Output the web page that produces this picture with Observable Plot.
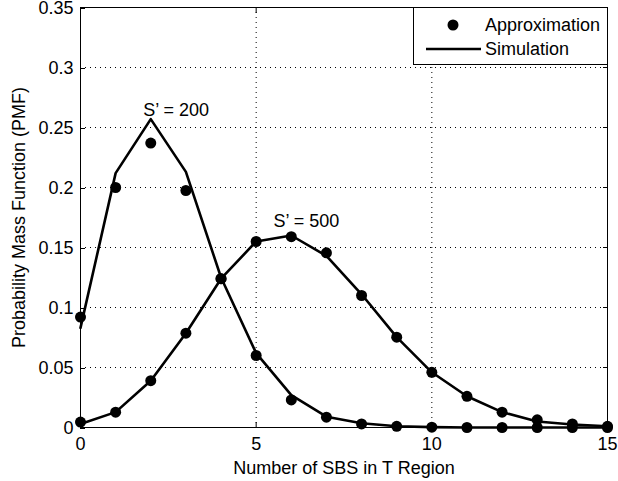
<!DOCTYPE html>
<html>
<head>
<meta charset="utf-8">
<script src="https://cdn.jsdelivr.net/npm/d3@7"></script>
<script src="https://cdn.jsdelivr.net/npm/@observablehq/plot@0.6"></script>
<style>
  body { margin: 0; background: #fff; }
  #wrap { position: relative; width: 618px; height: 481px; font-family: "Liberation Sans", Arial, sans-serif; }
  #legend { position: absolute; left: 413px; top: 7px; width: 193px; height: 56px; border: 1px solid #000; background: #fff; box-sizing: content-box; }
  #legend .row { position: absolute; left: 0; height: 24px; display: flex; align-items: center; font-size: 18px; }
  #legend svg { display: block; }
</style>
</head>
<body>
<div id="wrap"></div>
<script>
const xs = [0, 1, 2, 3, 4, 5, 6, 7, 8, 9, 10, 11, 12, 13, 14, 15];
const sim200 = [0.083, 0.212, 0.257, 0.213, 0.125, 0.062, 0.027, 0.009, 0.0035, 0.001, 0.0003, 0, 0, 0, 0, 0];
const approx200 = [0.092, 0.200, 0.237, 0.1975, 0.124, 0.060, 0.023, 0.0086, 0.003, 0.001, 0.0003, 0, 0, 0, 0, 0];
const sim500 = [0.003, 0.0128, 0.039, 0.0786, 0.124, 0.155, 0.160, 0.143, 0.111, 0.0753, 0.046, 0.026, 0.0128, 0.005, 0.0025, 0.001];
const approx500 = [0.0045, 0.0128, 0.039, 0.0786, 0.124, 0.155, 0.159, 0.1456, 0.110, 0.0753, 0.046, 0.026, 0.0128, 0.0064, 0.003, 0.001];
const xTicks = [0, 5, 10, 15];
const yTicks = [0, 0.05, 0.1, 0.15, 0.2, 0.25, 0.3, 0.35];
const yTickLabels = ["0", "0.05", "0.1", "0.15", "0.2", "0.25", "0.3", "0.35"];
const annoText = ["S’ = 200", "S’ = 500"];
const annoX = [2.72, 6.43];
const annoY = [0.264, 0.172];
const legendLabels = ["Approximation", "Simulation"];

const series = (ys) => xs.map((x, i) => ({x, y: ys[i]}));
const annos = annoText.map((t, i) => ({t, x: annoX[i], y: annoY[i]}));

const chart = Plot.plot({
  width: 618,
  height: 481,
  marginLeft: 80,
  marginRight: 11,
  marginTop: 7,
  marginBottom: 54,
  style: {fontFamily: "'Liberation Sans', Arial, sans-serif", fontSize: "18px", color: "#000", background: "#fff", overflow: "visible"},
  x: {domain: [0, 15]},
  y: {domain: [0, 0.35]},
  marks: [
    Plot.gridX(xTicks.slice(1, -1), {stroke: "#000", strokeOpacity: 1, strokeDasharray: "1,4"}),
    Plot.gridY(yTicks.slice(1, -1), {stroke: "#000", strokeOpacity: 1, strokeDasharray: "1,4"}),
    Plot.axisX({anchor: "bottom", ticks: xTicks, tickSize: -5, tickPadding: 15, tickFormat: d => String(d),
      label: "Number of SBS in T Region", labelAnchor: "center", labelArrow: "none", labelOffset: 46}),
    Plot.axisX({anchor: "top", ticks: xTicks, tickSize: -5, tickFormat: () => "", label: null}),
    Plot.axisY({anchor: "left", ticks: yTicks, tickSize: -5, tickPadding: 12, dy: 1, tickFormat: (d, i) => yTickLabels[i],
      label: "Probability Mass Function (PMF)", labelAnchor: "center", labelArrow: "none", labelOffset: 68}),
    Plot.axisY({anchor: "right", ticks: yTicks, tickSize: -5, tickFormat: () => "", label: null}),
    Plot.frame({stroke: "#000", strokeWidth: 1}),
    Plot.line(series(sim200), {x: "x", y: "y", stroke: "#000", strokeWidth: 2.6}),
    Plot.line(series(sim500), {x: "x", y: "y", stroke: "#000", strokeWidth: 2.6}),
    Plot.dot(series(approx200), {x: "x", y: "y", r: 5.5, fill: "#000"}),
    Plot.dot(series(approx500), {x: "x", y: "y", r: 5.5, fill: "#000"}),
    Plot.text(annos, {x: "x", y: "y", text: "t", fill: "#000", fontSize: 18})
  ]
});

const wrap = document.getElementById("wrap");
wrap.appendChild(chart);

const legend = document.createElement("div");
legend.id = "legend";
legend.innerHTML = `
  <div class="row" style="top:5px">
    <svg width="71" height="24"><circle cx="39" cy="12" r="5.5" fill="#000"/></svg>
    <span>${legendLabels[0]}</span>
  </div>
  <div class="row" style="top:29px">
    <svg width="71" height="24"><line x1="12" x2="67" y1="12" y2="12" stroke="#000" stroke-width="2.6"/></svg>
    <span>${legendLabels[1]}</span>
  </div>`;
wrap.appendChild(legend);
</script>
</body>
</html>
